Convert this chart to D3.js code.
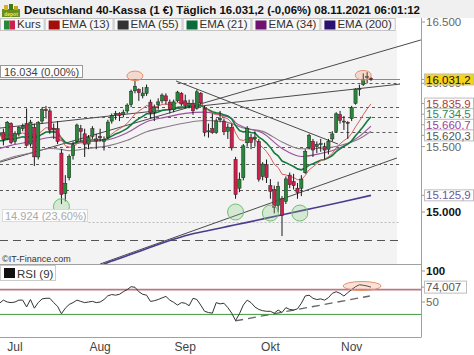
<!DOCTYPE html>
<html><head><meta charset="utf-8">
<script src="https://cdn.jsdelivr.net/npm/d3@7"></script>
<style>body{margin:0;background:#fff}svg{display:block;font-family:"Liberation Sans",Arial,sans-serif}</style>
</head><body><svg id="c" width="474" height="355"></svg>
<script>
// ---------- DATA ----------
const titleText = "Deutschland 40-Kassa (1 €) Täglich 16.031,2 (-0,06%) 08.11.2021 06:01:12";
const dayIndex = d3.range(-4, 93); // trading days, 0 = 1 Jul 2021, 92 = 8 Nov 2021
const open = [15590,15610,15560,15680, 15540,15600, 15640,15680,15520,15650,15420, 15700,15790,15780,15640,15640,
 15450,15140,15260,15430,15540, 15640,15600,15520,15580,15560, 15580,15540,15570,15700,15750, 15760,15750,15780,15830,15940,
 15950,15900,15920,15850,15770, 15830,15860,15900,15850,15790, 15860,15920,15860,15820,15840, 15800,15920,15800,15620,15640,
 15610,15710,15700,15620,15650, 15400,15180,15260,15530,15570, 15560,15540,15270,15360,15200, 15170,15050,15100,15080,15280,
 15230,15180,15180,15300,15490, 15540,15500,15520,15500,15480, 15560,15620,15750,15700,15690, 15720,15840,15950,15990,16050, 16040];
const high = [15680,15640,15700,15690, 15620,15660, 15680,15800,15710,15680,15700, 15810,15820,15800,15680,15700,
 15480,15280,15440,15540,15680, 15670,15640,15590,15660,15600, 15640,15580,15710,15760,15780, 15770,15790,15840,15950,16030,
 15960,15970,15990,15870,15830, 15880,15920,15920,15870,15870, 15940,15930,15910,15870,15870, 15950,15930,15820,15680,15760,
 15720,15780,15720,15680,15680, 15420,15300,15520,15660,15600, 15620,15560,15380,15400,15250, 15200,15230,15120,15270,15300,
 15290,15220,15280,15480,15600, 15560,15540,15560,15530,15560, 15620,15770,15780,15740,15700, 15820,15960,15990,16080,16090, 16050];
const low = [15570,15510,15550,15520, 15520,15580, 15620,15500,15500,15350,15400, 15680,15720,15600,15560,15520,
 15060,15080,15240,15400,15530, 15540,15420,15480,15560,15480, 15540,15470,15560,15680,15710, 15700,15730,15760,15810,15920,
 15860,15880,15900,15720,15700, 15790,15840,15830,15760,15770, 15850,15820,15800,15800,15750, 15790,15830,15580,15570,15600,
 15600,15690,15590,15560,15470, 15100,15150,15240,15500,15480, 15500,15230,15240,15220,15100, 14990,15000,14820,15060,15180,
 15170,15100,15120,15290,15480, 15420,15450,15460,15400,15440, 15540,15610,15680,15630,15560, 15700,15830,15900,15980,16000, 16020];
const close = [15608,15554,15691,15531, 15603,15650, 15661,15511,15692,15421,15688, 15790,15789,15629,15630,15540,
 15133,15216,15422,15514,15669, 15618,15519,15570,15640,15544, 15568,15555,15692,15744,15761, 15745,15770,15826,15937,15977,
 15925,15922,15966,15765,15808, 15852,15906,15860,15794,15852, 15930,15835,15824,15840,15781, 15932,15843,15610,15623,15609,
 15701,15722,15616,15652,15490, 15132,15249,15506,15644,15532, 15574,15249,15365,15261,15157, 15036,15195,14973,15251,15207,
 15200,15147,15250,15463,15587, 15474,15516,15523,15473,15543, 15599,15757,15705,15696,15688, 15806,15954,15959,16029,16054, 16031.2];
const ema13 = [15584,15580,15596,15587, 15589,15598, 15607,15593,15607,15580,15596, 15624,15648,15645,15643,15628,
 15557,15508,15496,15498,15522, 15536,15534,15539,15553,15552, 15554,15554,15574,15598,15621, 15639,15658,15682,15718,15755,
 15779,15799,15823,15815,15814, 15819,15831,15835,15829,15832, 15846,15844,15841,15841,15832, 15846,15846,15812,15785,15760,
 15752,15748,15729,15718,15685, 15606,15555,15548,15562,15558, 15560,15516,15494,15461,15418, 15363,15339,15287,15282,15271,
 15261,15245,15246,15277,15321, 15343,15368,15390,15402,15422, 15447,15491,15522,15547,15567, 15603,15655,15700,15750,15796, 15835.9];
const ema21 = [15546,15547,15560,15557, 15561,15569, 15577,15571,15582,15567,15578, 15597,15614,15615,15616,15609,
 15566,15534,15524,15523,15536, 15543,15541,15544,15553,15552, 15553,15553,15566,15582,15598, 15611,15625,15643,15670,15698,
 15719,15737,15758,15758,15763, 15771,15783,15790,15790,15796, 15808,15810,15811,15814,15811, 15822,15824,15805,15789,15773,
 15766,15762,15749,15740,15717, 15664,15626,15615,15618,15610, 15607,15574,15555,15528,15494, 15452,15429,15388,15376,15361,
 15346,15328,15321,15334,15357, 15367,15381,15394,15401,15414, 15431,15461,15483,15502,15519, 15545,15584,15620,15658,15699, 15734.5];
const ema34Idx = [-4,-1,4,9,10,12,14,19,24,29,34,39,44,49,54,56,57,59,64,69,74,79,84,89,92];
const ema34 = [15485,15510,15539,15571,15574,15547,15521,15538,15554,15609,15695,15731,15761,15771,15741,15722,15688,15654,15606,15486,15424,15447,15492,15580,15660.7];
const ema55Idx = [-4,-1,4,9,12,14,19,24,29,34,39,44,49,54,57,59,64,69,74,79,84,89,92];
const ema55 = [15385,15416,15450,15485,15479,15468,15487,15506,15550,15616,15653,15685,15704,15696,15668,15645,15619,15537,15483,15488,15509,15561,15620.3];
const ema200Idx = [14,20,25,30,35,40,45,50,55,60,65,70,75,80,85,92];
const ema200 = [14520,14580,14635,14685,14737,14787,14830,14862,14892,14922,14954,14985,15016,15047,15079,15125.9];
const rsi = [48,53,50,49, 50,53, 53,42,54,40,49, 55,56,56,49,43,
 31,40,46,49,53, 51,49,50,51,49, 50,54,60,62,61, 62.5,66.6,70,74.7,73.7,
 66.6,62.5,61,51,52, 54,56.6,59,53,49.5, 45,49,48,44,56, 54,45,35,33,32,
 49,47,48,41,32, 20,31,45,53,49, 42,38,36,35,35, 32,37,33,41,38,
 37,39,48,59.7,61, 56,54,55,53,57, 64,66.6,64,59.7,65, 70,74.7,77.8,77,75.8, 74.007];
const monthLabels = ["Jul","Aug","Sep","Okt","Nov"];
const monthStartIdx = [0,22,44,66,87];
const priceTicks = [16500,16000,15500,15000];
const rsiTicks = [100,50];
const rsiLevels = [70,30];
// horizontal levels (price) and trend lines ([index, price] pairs)
const levelPrices = [16034,16005,15812,15732,15614,15497,15366,15166,14924,14791];
const levelFrom   = [-4, 42, -4, -4, 81, -4, -4, -4, 19, -4];
const trendLines = [
  [[-3.9,15645],[99.5,15994]],
  [[-3.9,15380],[104.9,16352]],
  [[41.6,16019],[83.5,15520]],
  [[22.0,14614],[98.7,15412]]
];
const rsiTrend = [[56.9,19.4],[91.7,59.7]];
const fibLabels = ["16.034 (0,00%)","14.924 (23,60%)"];
const highMarks = [[31,16060],[90,16065]];
const lowMarks = [[12,15040],[57,15000],[66,14992],[73.6,14992]];
const rsiMark = [89.7,75.8];
const legendNames = ["Kurs","EMA (13)","EMA (55)","EMA (21)","EMA (34)","EMA (200)"];
const legendColors = ["kurs","#a50d0d","#333333","#0b6b3a","#6e1470","#2b1170"];

// ---------- SETUP ----------
const de = d3.formatLocale({decimal:",",thousands:".",grouping:[3],currency:["","€"]});
const f0 = de.format(",.0f"), f1 = de.format(",.1f"), f3 = de.format(",.3f");
const svg = d3.select("#c");
const x = d3.scaleLinear().domain([0,92]).range([15,371]);
const y = d3.scaleLog().domain([15000,16500]).range([212,22]);
const yr = d3.scaleLinear().domain([0,100]).range([333,271]);
const AX = 421, PT = 31, PB = 264, RB = 337;
const upC = "#28883a", dnC = "#cf1f4c";

const defs = svg.append("defs");
defs.append("clipPath").attr("id","mainClip").append("rect").attr("x",0).attr("y",PT).attr("width",AX).attr("height",PB-PT);
defs.append("clipPath").attr("id","rsiClip").append("rect").attr("x",0).attr("y",PB).attr("width",AX).attr("height",RB-PB);

// title bar
svg.append("rect").attr("x",0).attr("y",0).attr("width",474).attr("height",18).attr("fill","#f0f0f0");
const logo = svg.append("g").attr("transform","translate(2,4)");
logo.append("rect").attr("x",0).attr("y",5).attr("width",18).attr("height",8).attr("fill","#6a8f1f");
logo.append("rect").attr("x",2).attr("y",1).attr("width",4).attr("height",5).attr("fill","#d4b21a");
logo.append("rect").attr("x",7).attr("y",0).attr("width",4).attr("height",6).attr("fill","#3d7a1a");
logo.append("rect").attr("x",12).attr("y",2).attr("width",4).attr("height",4).attr("fill","#c9a21c");
logo.append("text").attr("x",9).attr("y",11.5).attr("text-anchor","middle").attr("font-size",5).attr("font-weight","bold").attr("fill","#ffe24a").text("depot");
svg.append("text").attr("x",24).attr("y",13.5).attr("font-size",11.5).attr("font-weight","bold").attr("fill","#111")
  .attr("textLength",396).attr("lengthAdjust","spacingAndGlyphs").text(titleText);

// main plot background
svg.append("rect").attr("x",0).attr("y",PT).attr("width",397).attr("height",PB-PT).attr("fill","#f3f3f3");

// legend
let lx = 0;
legendNames.forEach((n,k)=>{
  const g = svg.append("g");
  const t = g.append("text").attr("x",lx+17).attr("y",28.3).attr("font-size",11.5).attr("fill","#333").text(n);
  const w = 17 + t.node().getComputedTextLength() + 3;
  g.insert("rect","text").attr("x",lx+0.5).attr("y",18.5).attr("width",w).attr("height",12).attr("fill","#f7f7f7").attr("stroke","#c4c4c4");
  if (legendColors[k]==="kurs") {
    g.append("rect").attr("x",lx+4).attr("y",20.5).attr("width",5.5).attr("height",9).attr("fill",upC);
    g.append("rect").attr("x",lx+9.5).attr("y",20.5).attr("width",5.5).attr("height",9).attr("fill",dnC);
  } else {
    g.append("rect").attr("x",lx+4).attr("y",20.5).attr("width",11).attr("height",9).attr("fill",legendColors[k]);
  }
  lx += w + 1;
});

// ---------- MAIN PANEL ----------
const main = svg.append("g").attr("clip-path","url(#mainClip)");
const levelStyle = (k)=>{
  if (k===0) return {c:"#8a8a8a",d:null,w:1};
  if (k===8) return {c:"#bdbdbd",d:"2,2",w:1};
  if (k===9) return {c:"#555",d:"8,5",w:1};
  return {c:"#5a5a5a",d:"3,3",w:1};
};
levelPrices.forEach((p,k)=>{
  const s = levelStyle(k);
  main.append("line").attr("x1",Math.max(0,x(levelFrom[k]))).attr("x2",400)
    .attr("y1",Math.round(y(p))+0.5).attr("y2",Math.round(y(p))+0.5)
    .attr("stroke",s.c).attr("stroke-width",s.w).attr("stroke-dasharray",s.d);
});
trendLines.forEach(tl=>{
  main.append("line").attr("x1",x(tl[0][0])).attr("y1",y(tl[0][1])).attr("x2",x(tl[1][0])).attr("y2",y(tl[1][1]))
    .attr("stroke","#4a4a4a").attr("stroke-width",1);
});

// EMA lines
const lineD = d3.line().x(d=>x(d[0])).y(d=>y(d[1]));
const lineM = d3.line().x(d=>x(d[0])).y(d=>y(d[1])).curve(d3.curveMonotoneX);
main.append("path").attr("d",lineM(ema200Idx.map((d,k)=>[d,ema200[k]]))).attr("fill","none").attr("stroke","#4b3b8f").attr("stroke-width",1.6);
main.append("path").attr("d",lineM(ema55Idx.map((d,k)=>[d,ema55[k]]))).attr("fill","none").attr("stroke","#8a7a8a").attr("stroke-width",1.1);
main.append("path").attr("d",lineM(ema34Idx.map((d,k)=>[d,ema34[k]]))).attr("fill","none").attr("stroke","#9b4f9e").attr("stroke-width",1.1);
main.append("path").attr("d",lineD(dayIndex.map((d,k)=>[d,ema21[k]]))).attr("fill","none").attr("stroke","#157a3e").attr("stroke-width",1.6);
main.append("path").attr("d",lineD(dayIndex.map((d,k)=>[d,ema13[k]]))).attr("fill","none").attr("stroke","#d4605c").attr("stroke-width",1);

// candles
const cg = main.append("g");
dayIndex.forEach((d,k)=>{
  const cx = x(d);
  cg.append("line").attr("x1",cx).attr("x2",cx).attr("y1",y(high[k])).attr("y2",y(low[k])).attr("stroke","#1a1a1a").attr("stroke-width",1);
  const top = Math.min(y(open[k]),y(close[k])), bot = Math.max(y(open[k]),y(close[k]));
  cg.append("rect").attr("x",cx-1.6).attr("y",top).attr("width",3.2).attr("height",Math.max(1,bot-top))
    .attr("fill",close[k]>=open[k]?upC:dnC).attr("stroke","#222").attr("stroke-width",0.5);
});

// markers
highMarks.forEach(m=>{
  main.append("ellipse").attr("cx",x(m[0])).attr("cy",y(m[1])).attr("rx",8).attr("ry",4.8)
    .attr("fill","rgba(240,140,100,0.25)").attr("stroke","#e8906a").attr("stroke-width",1);
});
lowMarks.forEach(m=>{
  main.append("circle").attr("cx",x(m[0])).attr("cy",y(m[1])).attr("r",8)
    .attr("fill","rgba(120,200,120,0.25)").attr("stroke","#6fbf6f").attr("stroke-width",1);
});

// fib labels
const fl1 = svg.append("g");
fl1.append("rect").attr("x",0.5).attr("y",65.5).attr("width",82).attr("height",12).attr("fill","#fff").attr("stroke","#999");
fl1.append("text").attr("x",4).attr("y",75.5).attr("font-size",11).attr("fill","#444").text(fibLabels[0]);
const fl2 = svg.append("g");
fl2.append("rect").attr("x",2.5).attr("y",209.5).attr("width",85).attr("height",12).attr("fill","#fff").attr("stroke","#d8d8d8").attr("opacity",0.9);
fl2.append("text").attr("x",5).attr("y",219.5).attr("font-size",11).attr("fill","#aaa").text(fibLabels[1]);

svg.append("text").attr("x",2).attr("y",262).attr("font-size",9).attr("fill","#333").text("©IT-Finance.com");

// ---------- RSI PANEL ----------
const rp = svg.append("g").attr("clip-path","url(#rsiClip)");
rsiLevels.forEach((v,k)=>{
  rp.append("line").attr("x1",0).attr("x2",AX).attr("y1",yr(v)).attr("y2",yr(v))
    .attr("stroke",k===0?"#b97886":"#3f9a3f").attr("stroke-width",k===0?1.6:1);
});
rp.append("line").attr("x1",x(rsiTrend[0][0])).attr("y1",yr(rsiTrend[0][1])).attr("x2",x(rsiTrend[1][0])).attr("y2",yr(rsiTrend[1][1]))
  .attr("stroke","#666").attr("stroke-width",1.3).attr("stroke-dasharray","8,5");
rp.append("path").attr("d",d3.line().x(d=>x(d[0])).y(d=>yr(d[1]))(dayIndex.map((d,k)=>[d,rsi[k]])))
  .attr("fill","none").attr("stroke","#333").attr("stroke-width",1);
rp.append("ellipse").attr("cx",x(rsiMark[0])).attr("cy",yr(rsiMark[1])).attr("rx",19).attr("ry",4.5)
  .attr("fill","rgba(240,140,100,0.25)").attr("stroke","#e8906a").attr("stroke-width",1);
const rl = svg.append("g");
rl.append("rect").attr("x",0.5).attr("y",265.5).attr("width",55).attr("height",15).attr("fill","#fff").attr("stroke","#ccc");
rl.append("rect").attr("x",4).attr("y",268).attr("width",11).attr("height",10).attr("fill","#111");
rl.append("text").attr("x",17).attr("y",277.5).attr("font-size",11.5).attr("fill","#333").text("RSI (9)");

// panel frames
svg.append("line").attr("x1",0).attr("x2",AX).attr("y1",PB+0.5).attr("y2",PB+0.5).attr("stroke","#a0a0a0");
svg.append("line").attr("x1",0).attr("x2",AX).attr("y1",RB+0.5).attr("y2",RB+0.5).attr("stroke","#a0a0a0");
svg.append("line").attr("x1",AX+0.5).attr("x2",AX+0.5).attr("y1",18).attr("y2",RB+0.5).attr("stroke","#a0a0a0");

// ---------- AXES ----------
priceTicks.forEach(p=>{
  const yy = y(p);
  svg.append("line").attr("x1",AX).attr("x2",AX+4).attr("y1",yy).attr("y2",yy).attr("stroke","#999");
  svg.append("text").attr("x",AX+5).attr("y",yy).attr("dy","0.36em").attr("font-size",11.5)
    .attr("font-weight",p===15000?"bold":"normal").attr("fill",p===15000?"#111":"#666").text(f0(p));
});
rsiTicks.forEach(v=>{
  const yy = yr(v);
  svg.append("line").attr("x1",AX).attr("x2",AX+4).attr("y1",yy).attr("y2",yy).attr("stroke","#999");
  svg.append("text").attr("x",AX+5).attr("y",yy).attr("dy","0.36em").attr("font-size",11.5)
    .attr("font-weight",v===100?"bold":"normal").attr("fill",v===100?"#111":"#666").text(v);
});
monthLabels.forEach((m,k)=>{
  svg.append("text").attr("x",x(monthStartIdx[k])).attr("y",351).attr("text-anchor","middle").attr("font-size",12).attr("fill","#444").text(m);
});

// value labels on the right (de-overlapped)
const last = a => a[a.length-1];
const vlabels = [
  {v:last(close), txt:f1(last(close)), c:"#111", bg:"#f5d31a"},
  {v:last(ema13), txt:f1(last(ema13)), c:"#b03a3a", bg:"#fff"},
  {v:last(ema21), txt:f1(last(ema21)), c:"#2e8a5a", bg:"#fff"},
  {v:last(ema34), txt:f1(last(ema34)), c:"#9b3f9b", bg:"#fff"},
  {v:last(ema55), txt:f1(last(ema55)), c:"#555", bg:"#fff"},
  {v:last(ema200), txt:f1(last(ema200)), c:"#6a5aa0", bg:"#fff"}
];
vlabels.forEach(l=>{l.y0=y(l.v); l.y=l.y0;});
vlabels.sort((a,b)=>a.y0-b.y0);
const H = 10.6;
let groups = vlabels.map(l=>[l]);
let merged = true;
while (merged) {
  merged = false;
  for (let g=0; g<groups.length-1; g++) {
    const a = groups[g], b = groups[g+1];
    if (a[0].y + a.length*H > b[0].y) {
      const all = a.concat(b);
      const mean = d3.mean(all,l=>l.y0);
      const start = mean - (all.length-1)*H/2;
      all.forEach((l,j)=>l.y = start + j*H);
      groups.splice(g,2,all); merged = true; break;
    }
  }
}
vlabels.forEach(l=>{
  const g = svg.append("g");
  g.append("line").attr("x1",AX).attr("x2",AX+3).attr("y1",l.y).attr("y2",l.y).attr("stroke","#999");
  g.append("rect").attr("x",AX+3.5).attr("y",l.y-5.5).attr("width",49).attr("height",11).attr("fill",l.bg).attr("stroke","#bdbdbd");
  g.append("text").attr("x",AX+5).attr("y",l.y).attr("dy","0.36em").attr("font-size",11.5).attr("fill",l.c).text(l.txt);
});
const ry = yr(last(rsi));
svg.append("line").attr("x1",AX).attr("x2",AX+3).attr("y1",ry).attr("y2",ry).attr("stroke","#999");
svg.append("rect").attr("x",AX+3.5).attr("y",ry-6).attr("width",42).attr("height",12).attr("fill","#fff").attr("stroke","#bdbdbd");
svg.append("text").attr("x",AX+5).attr("y",ry).attr("dy","0.36em").attr("font-size",11.5).attr("fill","#555").text(f3(last(rsi)));
</script></body></html>
